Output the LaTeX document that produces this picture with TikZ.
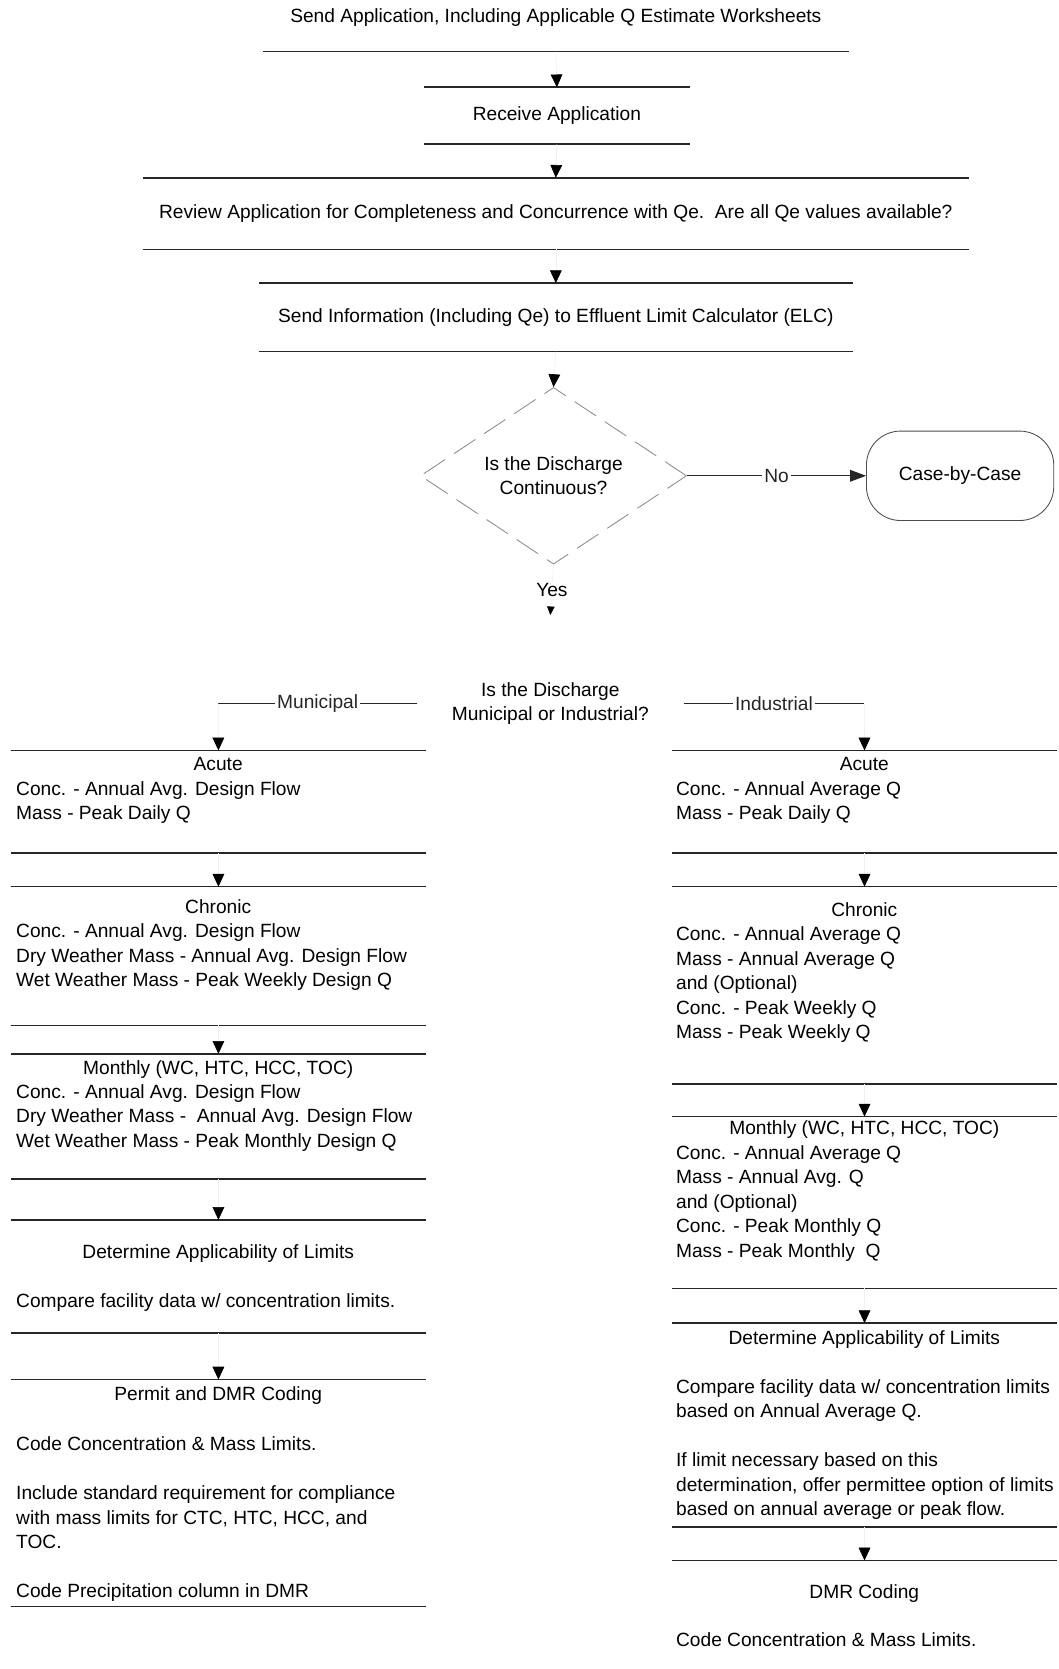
\documentclass[tikz,border=0pt]{standalone}
\usepackage{fontspec}
\setmainfont{Liberation Sans}
\usetikzlibrary{arrows.meta,shapes.geometric}
\tikzset{
  rule/.style={line width=1.5pt, black!85},
  bx/.style={rectangle, inner sep=0pt, anchor=north west},
  ttl/.style={anchor=base, inner sep=0pt},
  bodytxt/.style={anchor=base west, inner sep=0pt},
  flow/.style={draw=black!6, line width=0.6pt, -{Triangle[color=black,width=11pt,length=12pt]}},
  smallflow/.style={draw=black!6, line width=0.6pt, -{Triangle[color=black,width=7pt,length=8pt]}},
  branch/.style={line width=1pt, black!85},
  lbl/.style={fill=white, inner sep=2pt},
  decision/.style={diamond, inner sep=0pt, aspect=1.5, align=center, minimum width=250pt, minimum height=166pt},
}
\newcommand\tworules[1]{\draw[rule] (#1.north west) -- (#1.north east) (#1.south west) -- (#1.south east);}
\newcommand\txtlines[1]{\begin{tabular}[t]{@{}l@{}}#1\end{tabular}}
\begin{document}
\begin{tikzpicture}[x=1pt,y=-1pt,font=\fontsize{18}{23}\selectfont]
\fill[white] (0,0) rectangle (994,1568);
\useasboundingbox (0,0) rectangle (994,1568);

% ---- top chain
\node[bx, minimum width=550pt, minimum height=64pt] (b0) at (247,-16) {Send Application, Including Applicable Q Estimate Worksheets};
\node[bx, minimum width=250pt, minimum height=53pt] (b1) at (398,82) {Receive Application};
\node[bx, minimum width=776pt, minimum height=67pt] (b2) at (134,167) {Review Application for Completeness and Concurrence with Qe.\ \ Are all Qe values available?};
\node[bx, minimum width=558pt, minimum height=64pt] (b3) at (243,266) {Send Information (Including Qe) to Effluent Limit Calculator (ELC)};
\draw[rule] (b0.south west) -- (b0.south east);
\tworules{b1}
\tworules{b2}
\tworules{b3}
\draw[flow] (b0.south) -- (b1.north);
\draw[flow] (b1.south) -- (b2.north);
\draw[flow] (b2.south) -- (b3.north);

% ---- decisions
\node[decision, draw=black!45, line width=0.8pt, dash pattern=on 24pt off 10pt] (d1) at (520,447) {Is the Discharge\\Continuous?};
\draw[flow] (b3.south) -- (d1.north);
\node[rectangle, rounded corners=32pt, draw=black!70, line width=0.8pt, minimum width=176pt, minimum height=84pt] (case) at (902,447) {Case-by-Case};
\draw[branch, -{Triangle[width=11pt,length=15pt]}] (d1.east) -- node[lbl] (no) {No} (case.west);

\node[decision] (d2) at (517,661) {Is the Discharge\\Municipal or Industrial?};
\draw[smallflow] (d1.south) -- node[lbl, pos=0.5] (yes) {Yes} (d2.north);

\coordinate (mc) at (205,661);
\coordinate (ic) at (812,661);
\draw[branch] (d2.west) -- node[lbl] (mun) {Municipal} (mc);
\draw[branch] (d2.east) -- node[lbl] (ind) {Industrial} (ic);

% ---- municipal column
\node[bx, minimum width=390pt, minimum height=96pt]  (mA) at (10,705) {};
\node[bx, minimum width=390pt, minimum height=130pt] (mC) at (10,833) {};
\node[bx, minimum width=390pt, minimum height=117pt] (mM) at (10,990) {};
\node[bx, minimum width=390pt, minimum height=106pt] (mD) at (10,1146) {};
\node[bx, minimum width=390pt, minimum height=213pt] (mP) at (10,1296) {};
\tworules{mA}\tworules{mC}\tworules{mM}\tworules{mD}\tworules{mP}
\draw[flow] (mc) -- (mA.north);
\draw[flow] (mA.south) -- (mC.north);
\draw[flow] (mC.south) -- (mM.north);
\draw[flow] (mM.south) -- (mD.north);
\draw[flow] (mD.south) -- (mP.north);

\node[ttl] (mAt) at (205,724) {Acute};
\node[ttl] (mCt) at (205,858) {Chronic};
\node[ttl] (mMt) at (205,1009) {Monthly (WC, HTC, HCC, TOC)};
\node[ttl] (mDt) at (205,1182) {Determine Applicability of Limits};
\node[ttl] (mPt) at (205,1316) {Permit and DMR Coding};

\node[bodytxt] (mAb) at (15,747) {\txtlines{Conc. - Annual Avg. Design Flow\\Mass - Peak Daily Q}};
\node[bodytxt] (mCb) at (15,881) {\txtlines{Conc. - Annual Avg. Design Flow\\Dry Weather Mass - Annual Avg. Design Flow\\Wet Weather Mass - Peak Weekly Design Q}};
\node[bodytxt] (mMb) at (15,1032) {\txtlines{Conc. - Annual Avg. Design Flow\\Dry Weather Mass -\ \ Annual Avg. Design Flow\\Wet Weather Mass - Peak Monthly Design Q}};
\node[bodytxt] (mDb) at (15,1228) {\txtlines{Compare facility data w/ concentration limits.}};
\node[bodytxt] (mPb) at (15,1363) {\txtlines{Code Concentration \& Mass Limits.\\ \\Include standard requirement for compliance\\with mass limits for CTC, HTC, HCC, and\\TOC.\\ \\Code Precipitation column in DMR}};

% ---- industrial column
\node[bx, minimum width=362pt, minimum height=96pt]  (iA) at (631,705) {};
\node[bx, minimum width=362pt, minimum height=185pt] (iC) at (631,833) {};
\node[bx, minimum width=362pt, minimum height=161pt] (iM) at (631,1049) {};
\node[bx, minimum width=362pt, minimum height=191pt] (iD) at (631,1243) {};
\node[bx, minimum width=362pt, minimum height=110pt] (iR) at (631,1466) {};
\tworules{iA}\tworules{iC}\tworules{iM}\tworules{iD}
\draw[rule] (iR.north west) -- (iR.north east);
\draw[flow] (ic) -- (iA.north);
\draw[flow] (iA.south) -- (iC.north);
\draw[flow] (iC.south) -- (iM.north);
\draw[flow] (iM.south) -- (iD.north);
\draw[flow] (iD.south) -- (iR.north);

\node[ttl] (iAt) at (812,724) {Acute};
\node[ttl] (iCt) at (812,861) {Chronic};
\node[ttl] (iMt) at (812,1066) {Monthly (WC, HTC, HCC, TOC)};
\node[ttl] (iDt) at (812,1263) {Determine Applicability of Limits};
\node[ttl] (iRt) at (812,1502) {DMR Coding};

\node[bodytxt] (iAb) at (635,747) {\txtlines{Conc. - Annual Average Q\\Mass - Peak Daily Q}};
\node[bodytxt] (iCb) at (635,884) {\txtlines{Conc. - Annual Average Q\\Mass - Annual Average Q\\and (Optional)\\Conc. - Peak Weekly Q\\Mass - Peak Weekly Q}};
\node[bodytxt] (iMb) at (635,1089) {\txtlines{Conc. - Annual Average Q\\Mass - Annual Avg. Q\\and (Optional)\\Conc. - Peak Monthly Q\\Mass - Peak Monthly\ \ Q}};
\node[bodytxt] (iDb) at (635,1309) {\txtlines{Compare facility data w/ concentration limits\\based on Annual Average Q.\\ \\If limit necessary based on this\\determination, offer permittee option of limits\\based on annual average or peak flow.}};
\node[bodytxt] (iRb) at (635,1547) {\txtlines{Code Concentration \& Mass Limits.}};
\end{tikzpicture}
\end{document}
